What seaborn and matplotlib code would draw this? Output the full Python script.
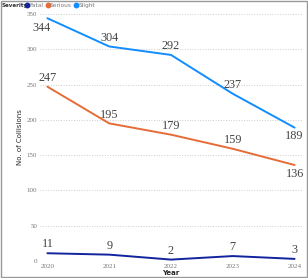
import pandas as pd
import matplotlib.pyplot as plt
import seaborn as sns
from matplotlib.lines import Line2D
from matplotlib.patches import Rectangle

years = [2020, 2021, 2022, 2023, 2024]
fatal = [11, 9, 2, 7, 3]
serious = [247, 195, 179, 159, 136]
slight = [344, 304, 292, 237, 189]
severities = ["Fatal", "Serious", "Slight"]
colors = {"Fatal": "#12239E", "Serious": "#E66C37", "Slight": "#118DFF"}

df = pd.DataFrame({
    "Year": years * 3,
    "Collisions": fatal + serious + slight,
    "Severity": ["Fatal"] * 5 + ["Serious"] * 5 + ["Slight"] * 5,
})

sns.set_theme(style="white")
plt.rcParams["font.family"] = ["Liberation Serif", "DejaVu Serif"]

fig = plt.figure(figsize=(3.08, 2.78), dpi=100)
ax = fig.add_axes([40 / 308, 1 - 261 / 278, 262 / 308, 247 / 278])

sns.lineplot(data=df, x="Year", y="Collisions", hue="Severity",
             palette=colors, hue_order=severities, linewidth=1.4,
             legend=False, ax=ax)
for ln in ax.lines:
    ln.set_clip_on(False)

ax.set_xlim(2019.88, 2024.12)
ax.set_ylim(0, 350)
ax.set_xticks(years)
ax.set_yticks(range(0, 351, 50))
ax.tick_params(axis="both", labelsize=5, colors="#777777", length=0, pad=2)
ax.grid(axis="y", ls=":", color="#cccccc", lw=0.7)
for s in ax.spines.values():
    s.set_visible(False)
ax.set_xlabel("Year", fontsize=5, fontweight="bold", family="DejaVu Sans", labelpad=1)
ax.set_ylabel("No. of Collisions", fontsize=5, family="DejaVu Sans", labelpad=3)

# data labels
offsets = {
    "Slight": [(-4, -3), (0, 2), (0, 2), (0, 2), (0, -2)],
    "Serious": [(0, 2), (0, 2), (0, 2), (0, 2), (0, -2)],
    "Fatal": [(0, 2), (0, 2), (0, 2), (0, 2), (0, 2)],
}
for sev, vals in zip(severities, [fatal, serious, slight]):
    for yr, v, (dx, dy) in zip(years, vals, offsets[sev]):
        ax.annotate(str(v), (yr, v), xytext=(dx, dy), textcoords="offset points",
                    ha="center", va="bottom" if dy > 0 else "top",
                    fontsize=8.8, color="#444444", annotation_clip=False)

# legend
fig.text(2 / 308, 1 - 5 / 278, "Severity", fontsize=4, fontweight="bold",
         family="DejaVu Sans", va="center", color="#333333")
handles = [Line2D([], [], marker="o", ls="", color=colors[s], markersize=3.2) for s in severities]
leg = fig.legend(handles, severities, loc="center left", bbox_to_anchor=(25 / 308, 1 - 5 / 278),
                 ncol=3, frameon=False, fontsize=4.2, handletextpad=0.0, columnspacing=0.3,
                 borderaxespad=0, borderpad=0, handlelength=0.8)
for t in leg.get_texts():
    t.set_family("DejaVu Sans")
    t.set_color("#777777")

fig.patches.append(Rectangle((0.002, 0.002), 0.996, 0.996, transform=fig.transFigure,
                             fill=False, edgecolor="#999999", lw=1))

fig.savefig("out.png", dpi=100)
